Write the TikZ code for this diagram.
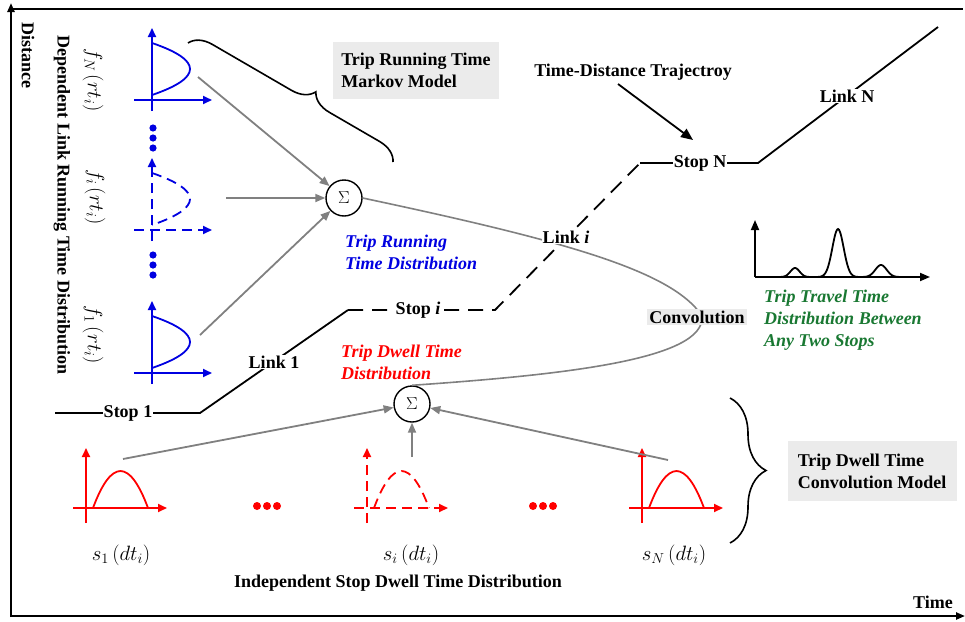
\documentclass[tikz,border=0pt]{standalone}
\usepackage{fontspec}
\setmainfont{Liberation Serif}
\usetikzlibrary{arrows.meta,decorations.pathreplacing,calc}
\definecolor{tgreen}{RGB}{25,120,50}
\definecolor{tblue}{RGB}{0,0,225}
\definecolor{tred}{RGB}{255,0,0}
\definecolor{boxgray}{RGB}{235,235,235}
\begin{document}
\begin{tikzpicture}[x=1pt,y=-1pt,
  lbl/.style={font=\fontsize{18}{22}\selectfont\bfseries, inner sep=1pt},
  onwhite/.style={lbl, fill=white},
  graybox/.style={lbl, fill=boxgray, align=left, inner xsep=4pt, inner ysep=3pt},
  itl/.style={font=\fontsize{18}{22}\selectfont\bfseries\itshape, align=left, anchor=west, inner sep=1pt},
  mathlbl/.style={font=\fontsize{21}{24}\selectfont, inner sep=1pt},
  garrow/.style={draw=gray, line width=1.8pt, -{Triangle[length=10pt,width=8pt]}},
  traj/.style={line width=1.8pt},
  sumnode/.style={circle, draw, line width=1.4pt, minimum size=36pt, inner sep=0pt, font=\fontsize{16}{16}\selectfont},
  bgraph/.pic={
    \draw[tblue,line width=1.8pt,-{Triangle[length=9pt,width=8pt]}] (0,11) -- (0,-72);
    \draw[tblue,line width=1.8pt,-{Triangle[length=9pt,width=8pt]}] (-18,0) -- (60,0);
    \draw[tblue,line width=1.8pt] (0,-57) .. controls (50.7,-39.7) and (50.7,-22.3) .. (0,-5);
  },
  rgraph/.pic={
    \draw[tred,line width=1.8pt,-{Triangle[length=9pt,width=8pt]}] (0,15) -- (0,-60);
    \draw[tred,line width=1.8pt,-{Triangle[length=9pt,width=8pt]}] (-13,0) -- (81,0);
    \draw[tred,line width=1.8pt] (7,0) .. controls (25.3,-49.3) and (43.7,-49.3) .. (62,0);
  }
]
\useasboundingbox (0,0) rectangle (965,621);

% frame / axes
\draw[line width=2.2pt] (11,9) -- (963,9);
\draw[line width=2.2pt, -{Triangle[length=9pt,width=7pt]}] (11,617) -- (11,3);
\draw[line width=2.2pt, -{Triangle[length=9pt,width=7pt]}] (10,616) -- (965,616);
\node[lbl, rotate=-90] (dist) at (28,55) {Distance};
\node[lbl] (time) at (933,602) {Time};
\node[lbl, rotate=-90] (deplink) at (62,205) {Dependent Link Running Time Distribution};

% blue link distributions
\pic at (152,100) {bgraph};
\pic[dash pattern=on 10pt off 6pt] at (152,230) {bgraph};
\pic at (152,373) {bgraph};
\foreach \yy in {128,138,148,255,265,275} \fill[tblue] (153,\yy) circle (3.6);
\node[mathlbl, rotate=-90] (fN) at (93,80) {$f_N\left(rt_i\right)$};
\node[mathlbl, rotate=-90] (fi) at (95,197) {$f_i\left(rt_i\right)$};
\node[mathlbl, rotate=-90] (f1) at (93,335) {$f_1\left(rt_i\right)$};

% sum nodes
\node[sumnode] (sig1) at (344,198) {$\Sigma$};
\node[sumnode] (sig2) at (412,404) {$\Sigma$};

\coordinate (fNout) at (198,77);
\coordinate (fiout) at (226,198);
\coordinate (f1out) at (200,335);
\draw[garrow] (fNout) -- (sig1);
\draw[garrow] (fiout) -- (sig1);
\draw[garrow] (f1out) -- (sig1);

% red dwell distributions
\pic at (86,508) {rgraph};
\pic[dash pattern=on 10pt off 6pt] at (367,508) {rgraph};
\pic at (642,508) {rgraph};
\foreach \xx in {257,267,277,533,543,553} \fill[tred] (\xx,506) circle (4);
\node[mathlbl] (s1) at (121,555) {$s_1\left(dt_i\right)$};
\node[mathlbl] (si) at (411,555) {$s_i\left(dt_i\right)$};
\node[mathlbl] (sN) at (674,555) {$s_N\left(dt_i\right)$};
\node[lbl] (indep) at (398,583) {Independent Stop Dwell Time Distribution};

\coordinate (s1out) at (123,459);
\coordinate (siout) at (412,457);
\coordinate (sNout) at (668,460);
\draw[garrow] (s1out) -- (sig2);
\draw[garrow] (siout) -- (sig2);
\draw[garrow] (sNout) -- (sig2);

% convolution curve
\coordinate (cv) at (702,316);
\draw[gray, line width=1.6pt] (sig1.east) .. controls (560,240) and (672,270) .. (cv)
      .. controls (706,360) and (560,375) .. (sig2.north);

% trajectory
\coordinate (t0) at (55,413);
\coordinate (t1) at (200,413);
\coordinate (t2) at (348,310);
\coordinate (t3) at (495,310);
\coordinate (t4) at (640,163);
\coordinate (t5) at (758,163);
\coordinate (t6) at (938,27);
\draw[traj] (t0) -- (t1) -- (t2);
\draw[traj, dash pattern=on 15pt off 9pt] (t2) -- (t3) -- (t4);
\draw[traj] (t4) -- (t5) -- (t6);
\node[onwhite] (stop1) at (128,413) {Stop 1};
\node[onwhite] (link1) at (274,362) {Link 1};
\node[onwhite] (stopi) at (418,310) {Stop \textit{i}};
\node[onwhite] (linki) at (566,237) {Link \textit{i}};
\node[onwhite] (stopN) at (700,163) {Stop N};
\node[onwhite] (linkN) at (847,96) {Link N};

\node[lbl] (tdt) at (633,72) {Time-Distance Trajectroy};
\coordinate (tdtstart) at (618,84);
\coordinate (tdtend) at (693,140);
\draw[line width=1.8pt, -{Triangle[length=12pt,width=10pt]}] (tdtstart) -- (tdtend);

% boxes
\node[graybox, minimum width=166pt, minimum height=57pt] (markov) at (416,70) {Trip Running Time\\Markov Model};
\node[graybox, inner xsep=2pt, inner ysep=2pt] (conv) at (697,317) {Convolution};
\node[graybox, minimum width=169pt, minimum height=60pt] (dwellmodel) at (872,471) {Trip Dwell Time\\Convolution Model};

% braces
\draw[line width=1.6pt, decorate, decoration={brace, amplitude=22pt, aspect=0.57}] (188,43) -- (393,162);
\draw[line width=1.6pt, decorate, decoration={brace, amplitude=36pt}] (730,398) -- (730,543);

% coloured captions
\node[itl, text=tblue] (trdist) at (344,252) {Trip Running\\Time Distribution};
\node[itl, text=tred] (tddist) at (340,362) {Trip Dwell Time\\Distribution};
\node[itl, text=tgreen] (ttdist) at (763,320) {Trip Travel Time\\Distribution Between\\Any Two Stops};

% travel time distribution graph
\coordinate (go) at (755,277);
\coordinate (gy) at (755,220);
\coordinate (gx) at (930,277);
\draw[line width=1.8pt, -{Triangle[length=10pt,width=8pt]}] (go) -- (gy);
\draw[line width=1.8pt, -{Triangle[length=10pt,width=8pt]}] (go) -- (gx);
\draw[line width=1.8pt, domain=772:905, samples=140, smooth]
  plot (\x, {277 - 9*exp(-min(((\x-795)/6.5)^2, 9)) - 48*exp(-min(((\x-838)/8)^2, 9)) - 12*exp(-min(((\x-881)/8)^2, 9))});
\end{tikzpicture}
\end{document}
